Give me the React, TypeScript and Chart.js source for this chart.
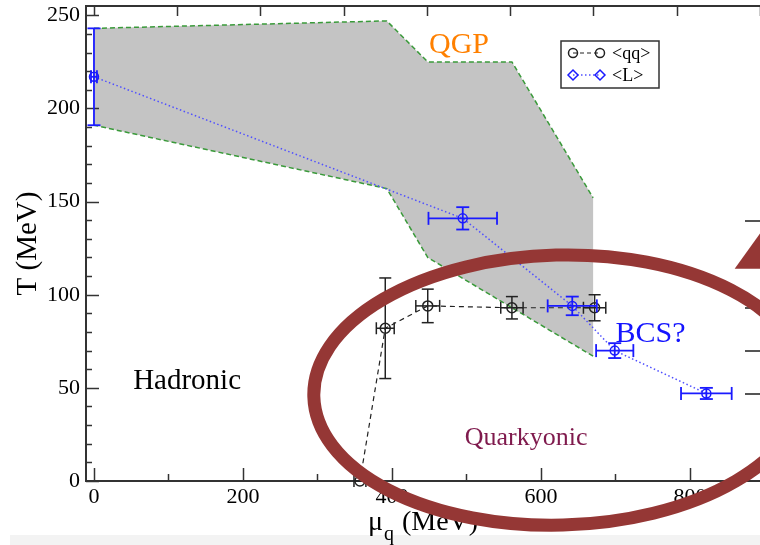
import React, { useEffect, useRef } from 'react';
import { Chart, registerables } from 'chart.js';

Chart.register(...registerables);

// ---- data ----
const qqMu = [357, 391, 448, 561, 672];
const qqT = [0, 82, 94, 93, 93];
const qqMuErr = [8, 12, 16, 15, 15];
const qqTErr = [0, 27, 9, 6, 7];

const lMu = [0, 495, 642, 699, 822];
const lT = [217, 141, 94, 70, 47];
const lMuErr = [4, 46, 33, 25, 34];
const lTErr = [26, 6, 5, 4, 3];

const regionMu = [0, 393, 448, 561, 670, 670, 448, 393, 0];
const regionT = [243, 247, 225, 225, 152, 67, 120, 157, 191];

const legendLabels = ['<qq>', '<L>'];

const phaseText = ['QGP', 'Hadronic', 'BCS?', 'Quarkyonic'];
const phaseMu = [490, 125, 747, 580];
const phaseT = [229.6, 49.4, 74.6, 19.3];
const phaseSize = [30, 29, 30, 26];
const phaseColor = ['#ff8000', '#000000', '#1414ff', '#7f1a4d'];

// annotation overlay (ellipse + arrow head), in data units
const ellMu = 625;
const ellT = 48.8;
const ellRMu = 330;
const ellRT = 72.5;
const ellRotDeg = -1.5;
const arrowMu = [860, 915, 915];
const arrowT = [114, 114, 144.5];

// axis ranges / ticks
const X_MIN = -10.7;
const X_MAX = 894;
const X_STEP = 200;
const X_MINOR = 100;
const Y_MIN = 0;
const Y_MAX = 255;
const Y_STEP = 50;
const Y_MINOR = 10;
const TOP_MIN = -0.096;
const TOP_MAX = 8;
const RIGHT_MAX = 10.97;
const rightTickValues = [2, 3, 4, 5, 6];

const SERIF = "'Liberation Serif', 'Times New Roman', serif";
const AXIS = '#333333';
const BLUE = '#1a1aff';
const RED = '#953735';
const GREEN = '#3a9a3a';

function line(ctx: CanvasRenderingContext2D, x1: number, y1: number, x2: number, y2: number) {
  ctx.beginPath();
  ctx.moveTo(x1, y1);
  ctx.lineTo(x2, y2);
  ctx.stroke();
}

function zeroPad(s: any) {
  s.paddingTop = 0;
  s.paddingBottom = 0;
  s.paddingLeft = 0;
  s.paddingRight = 0;
}

function drawErrors(ctx: CanvasRenderingContext2D, xs: any, ys: any, mu: number[], t: number[], muE: number[], tE: number[], color: string, lw: number, cap: number) {
  ctx.strokeStyle = color;
  ctx.lineWidth = lw;
  ctx.setLineDash([]);
  for (let i = 0; i < mu.length; i++) {
    const px = xs.getPixelForValue(mu[i]);
    const py = ys.getPixelForValue(t[i]);
    if (muE[i] > 0) {
      const a = xs.getPixelForValue(mu[i] - muE[i]);
      const b = xs.getPixelForValue(mu[i] + muE[i]);
      line(ctx, a, py, b, py);
      line(ctx, a, py - cap, a, py + cap);
      line(ctx, b, py - cap, b, py + cap);
    }
    if (tE[i] > 0) {
      const a = ys.getPixelForValue(t[i] - tE[i]);
      const b = ys.getPixelForValue(t[i] + tE[i]);
      line(ctx, px, a, px, b);
      line(ctx, px - cap, a, px + cap, a);
      line(ctx, px - cap, b, px + cap, b);
    }
  }
}

const overlayPlugin = {
  id: 'overlay',
  beforeDraw(chart: any) {
    const ctx = chart.ctx as CanvasRenderingContext2D;
    ctx.save();
    ctx.fillStyle = '#ffffff';
    ctx.fillRect(0, 0, chart.width, chart.height);
    ctx.fillStyle = '#f3f3f3';
    ctx.fillRect(10, 535, chart.width - 10, 10);
    ctx.restore();
  },
  afterDatasetsDraw(chart: any) {
    const ctx = chart.ctx as CanvasRenderingContext2D;
    const { x, y, x2, y2 } = chart.scales;
    const ca = chart.chartArea;
    ctx.save();
    // inward ticks
    ctx.strokeStyle = AXIS;
    ctx.lineWidth = 1.5;
    for (let v = Y_MIN; v <= 250; v += Y_MINOR) {
      const py = Math.round(y.getPixelForValue(v)) + 0.5;
      const len = v % Y_STEP === 0 ? 13 : 6;
      line(ctx, ca.left, py, ca.left + len, py);
    }
    for (let v = 0; v <= X_MAX; v += X_MINOR) {
      const px = Math.round(x.getPixelForValue(v)) + 0.5;
      const len = v % X_STEP === 0 ? 13 : 7;
      line(ctx, px, ca.bottom, px, ca.bottom - len);
    }
    x2.ticks.forEach((tk: any) => {
      const px = Math.round(x2.getPixelForValue(tk.value)) + 0.5;
      line(ctx, px, ca.top, px, ca.top + 10);
    });
    ctx.strokeStyle = '#555555';
    ctx.lineWidth = 2;
    rightTickValues.forEach((v) => {
      const py = Math.round(y2.getPixelForValue(v));
      line(ctx, ca.right - 15, py, ca.right, py);
    });

    // error bars
    drawErrors(ctx, x, y, qqMu, qqT, qqMuErr, qqTErr, '#222222', 1.5, 6);
    drawErrors(ctx, x, y, lMu, lT, lMuErr, lTErr, BLUE, 1.8, 6.5);

    // phase labels
    ctx.textAlign = 'center';
    ctx.textBaseline = 'alphabetic';
    for (let i = 0; i < phaseText.length; i++) {
      ctx.font = `${phaseSize[i]}px ${SERIF}`;
      ctx.fillStyle = phaseColor[i];
      ctx.fillText(phaseText[i], x.getPixelForValue(phaseMu[i]), y.getPixelForValue(phaseT[i]));
    }

    // legend
    const lx = ca.left + 475;
    const ly = ca.top + 35;
    ctx.strokeStyle = AXIS;
    ctx.lineWidth = 1.5;
    ctx.strokeRect(lx, ly, 98, 47);
    const r1 = ly + 12;
    const r2 = ly + 34;
    const s1 = lx + 12;
    const s2 = lx + 39;
    ctx.strokeStyle = '#222222';
    ctx.lineWidth = 1.2;
    ctx.setLineDash([4, 3]);
    line(ctx, s1, r1, s2, r1);
    ctx.setLineDash([]);
    ctx.lineWidth = 1.5;
    [s1, s2].forEach((sx) => {
      ctx.beginPath();
      ctx.arc(sx, r1, 4.5, 0, Math.PI * 2);
      ctx.stroke();
    });
    ctx.strokeStyle = '#5050ff';
    ctx.lineWidth = 1.5;
    ctx.setLineDash([1.5, 2.5]);
    line(ctx, s1, r2, s2, r2);
    ctx.setLineDash([]);
    ctx.strokeStyle = BLUE;
    [s1, s2].forEach((sx) => {
      ctx.beginPath();
      ctx.moveTo(sx - 5, r2);
      ctx.lineTo(sx, r2 - 5);
      ctx.lineTo(sx + 5, r2);
      ctx.lineTo(sx, r2 + 5);
      ctx.closePath();
      ctx.stroke();
    });
    ctx.fillStyle = '#000000';
    ctx.font = `18px ${SERIF}`;
    ctx.textAlign = 'left';
    ctx.textBaseline = 'middle';
    ctx.fillText(legendLabels[0], lx + 51, r1 + 1);
    ctx.fillText(legendLabels[1], lx + 51, r2 + 1);

    // x axis title with subscript
    ctx.textBaseline = 'alphabetic';
    ctx.fillStyle = '#000000';
    const big = `28px ${SERIF}`;
    const small = `20px ${SERIF}`;
    ctx.font = big;
    const wMu = ctx.measureText('\u03bc').width;
    const wRest = ctx.measureText(' (MeV)').width;
    ctx.font = small;
    const wQ = ctx.measureText('q').width;
    const total = wMu + wQ + wRest + 2;
    let tx = (ca.left + ca.right) / 2 - total / 2;
    const base = 530;
    ctx.font = big;
    ctx.fillText('\u03bc', tx, base);
    tx += wMu + 1;
    ctx.font = small;
    ctx.fillText('q', tx, base + 10);
    tx += wQ + 1;
    ctx.font = big;
    ctx.fillText(' (MeV)', tx, base);
    ctx.restore();
  },
  afterDraw(chart: any) {
    const ctx = chart.ctx as CanvasRenderingContext2D;
    const { x, y } = chart.scales;
    ctx.save();
    const cx = x.getPixelForValue(ellMu);
    const cy = y.getPixelForValue(ellT);
    const rx = Math.abs(x.getPixelForValue(ellMu + ellRMu) - cx);
    const ry = Math.abs(y.getPixelForValue(ellT + ellRT) - cy);
    ctx.strokeStyle = RED;
    ctx.lineWidth = 13;
    ctx.beginPath();
    ctx.ellipse(cx, cy, rx, ry, (ellRotDeg * Math.PI) / 180, 0, Math.PI * 2);
    ctx.stroke();
    ctx.fillStyle = RED;
    ctx.beginPath();
    arrowMu.forEach((m, i) => {
      const px = x.getPixelForValue(m);
      const py = y.getPixelForValue(arrowT[i]);
      if (i === 0) ctx.moveTo(px, py);
      else ctx.lineTo(px, py);
    });
    ctx.closePath();
    ctx.fill();
    ctx.restore();
  },
};

export default function App() {
  const ref = useRef<HTMLCanvasElement>(null);
  useEffect(() => {
    const canvas = ref.current;
    if (!canvas) return;
    const regionData = regionMu.map((m, i) => ({ x: m, y: regionT[i] }));
    const qqData = qqMu.map((m, i) => ({ x: m, y: qqT[i] }));
    const lData = lMu.map((m, i) => ({ x: m, y: lT[i] }));
    const chart = new Chart(canvas, {
      type: 'line',
      data: {
        datasets: [
          {
            label: 'region fill',
            data: regionData,
            fill: 'shape',
            backgroundColor: '#c4c4c4',
            borderColor: 'rgba(0,0,0,0)',
            borderWidth: 0,
            pointRadius: 0,
            tension: 0,
            order: 6,
          } as any,
          {
            label: 'region edge',
            data: regionData,
            fill: false,
            borderColor: GREEN,
            borderWidth: 1.5,
            borderDash: [5, 3],
            pointRadius: 0,
            tension: 0,
            order: 5,
            segment: {
              borderColor: (c: any) => (c.p0DataIndex === 4 ? 'rgba(0,0,0,0)' : GREEN),
            },
          } as any,
          {
            label: legendLabels[0],
            data: qqData,
            fill: false,
            borderColor: '#222222',
            borderWidth: 1.2,
            borderDash: [5, 4],
            pointRadius: 5,
            pointStyle: 'circle',
            pointBorderColor: '#222222',
            pointBackgroundColor: 'rgba(0,0,0,0)',
            pointBorderWidth: 1.5,
            tension: 0,
            clip: false,
            order: 2,
          } as any,
          {
            label: legendLabels[1],
            data: lData,
            fill: false,
            borderColor: '#5050ff',
            borderWidth: 1.5,
            borderDash: [1.5, 2.5],
            pointRadius: 4.5,
            pointStyle: 'circle',
            pointBorderColor: BLUE,
            pointBackgroundColor: 'rgba(0,0,0,0)',
            pointBorderWidth: 1.5,
            tension: 0,
            order: 1,
          } as any,
        ],
      },
      options: {
        animation: false,
        responsive: false,
        maintainAspectRatio: false,
        layout: { padding: 0, autoPadding: false },
        plugins: {
          legend: { display: false },
          tooltip: { enabled: false },
        },
        scales: {
          x: {
            type: 'linear',
            position: 'bottom',
            min: X_MIN,
            max: X_MAX,
            grid: { display: false, drawTicks: false },
            border: { display: true, color: AXIS, width: 2 },
            ticks: {
              stepSize: X_STEP,
              includeBounds: false,
              color: '#000',
              padding: 3,
              font: { family: SERIF, size: 22 },
              maxRotation: 0,
            },
            afterFit: (s: any) => {
              s.height = 64;
              zeroPad(s);
            },
          },
          x2: {
            type: 'linear',
            position: 'top',
            min: TOP_MIN,
            max: TOP_MAX,
            grid: { display: false, drawTicks: false },
            border: { display: true, color: AXIS, width: 2 },
            ticks: { display: false, stepSize: 1, includeBounds: false },
            afterFit: (s: any) => {
              s.height = 6;
              zeroPad(s);
            },
          },
          y: {
            type: 'linear',
            position: 'left',
            min: Y_MIN,
            max: Y_MAX,
            grid: { display: false, drawTicks: false },
            border: { display: true, color: AXIS, width: 2 },
            ticks: {
              stepSize: Y_STEP,
              includeBounds: false,
              color: '#000',
              padding: 6,
              font: { family: SERIF, size: 22 },
            },
            title: {
              display: true,
              text: 'T (MeV)',
              color: '#000',
              font: { family: SERIF, size: 29 },
              padding: { top: 11, bottom: 0 },
            },
            afterFit: (s: any) => {
              s.width = 86;
              zeroPad(s);
            },
          },
          y2: {
            type: 'linear',
            position: 'right',
            display: false,
            min: 0,
            max: RIGHT_MAX,
            afterFit: (s: any) => {
              s.width = 0;
              zeroPad(s);
            },
          },
        },
      } as any,
      plugins: [overlayPlugin],
    });
    return () => chart.destroy();
  }, []);

  return (
    <div
      style={{
        position: 'fixed',
        left: 0,
        top: 0,
        width: 760,
        height: 545,
        overflow: 'hidden',
        background: '#fff',
      }}
    >
      <canvas ref={ref} width={760} height={545} style={{ display: 'block', width: '760px', height: '545px' }} />
    </div>
  );
}
